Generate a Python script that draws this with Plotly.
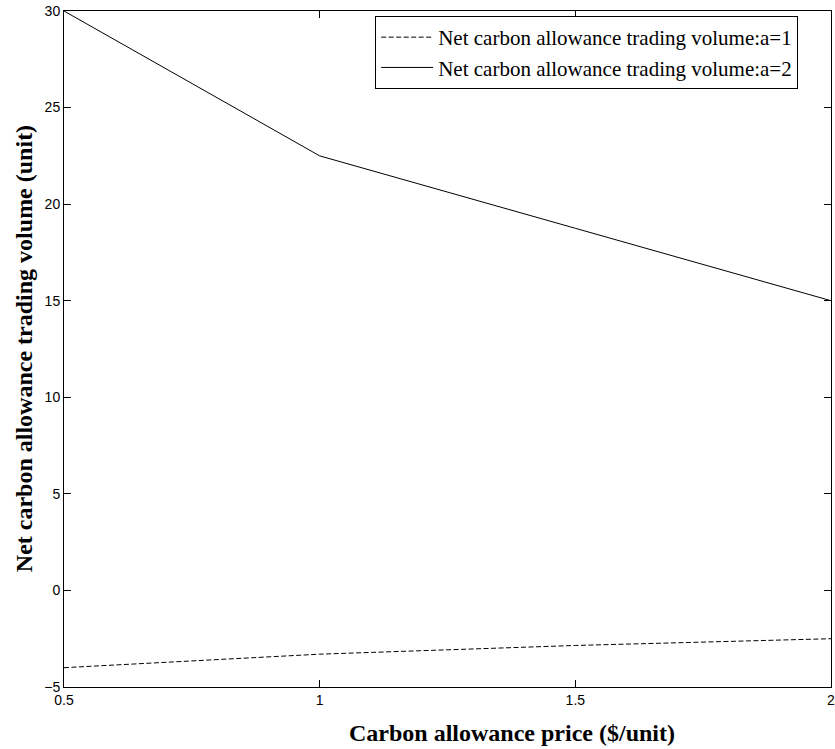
import plotly.graph_objects as go

price = [0.5, 1.0, 1.5, 2.0]
vol_a1 = [-4.0, -3.3, -2.85, -2.5]
vol_a2 = [30.0, 22.5, 18.75, 15.0]
name_a1 = "Net carbon allowance trading volume:a=1"
name_a2 = "Net carbon allowance trading volume:a=2"
x_ticks = [0.5, 1, 1.5, 2]
y_ticks = [-5, 0, 5, 10, 15, 20, 25, 30]
x_title = "<b>Carbon allowance price ($/unit)</b>"
y_title = "<b>Net carbon allowance trading volume (unit)</b>"

fig = go.Figure()
fig.add_trace(go.Scatter(x=price, y=vol_a1, mode="lines", name=name_a1,
                         legendgroup="g1",
                         line=dict(color="black", width=1, dash="5px,2.5px")))
fig.add_trace(go.Scatter(x=price, y=vol_a2, mode="lines", name=name_a2,
                         legendgroup="g2",
                         line=dict(color="black", width=1)))

axis_common = dict(showgrid=False, zeroline=False, showline=True, linecolor="black",
                   linewidth=1, mirror="ticks", ticks="inside", ticklen=7,
                   tickcolor="black",
                   tickfont=dict(family="Liberation Sans, Arial", size=14, color="black"))

serif = "Liberation Serif, Times New Roman"

fig.update_layout(
    width=835, height=749,
    margin=dict(l=64, r=0, t=11, b=62),
    paper_bgcolor="white", plot_bgcolor="white",
    xaxis=dict(range=[0.5, 2], tickvals=x_ticks, ticktext=[str(v) for v in x_ticks],
               ticklabeloverflow="allow", **axis_common),
    yaxis=dict(range=[-5, 30], tickvals=y_ticks, **axis_common),
    legend=dict(x=0.9572, xanchor="right", y=0.9926, yanchor="top",
                bgcolor="white", bordercolor="black", borderwidth=1,
                font=dict(family=serif, size=21, color="black"),
                itemwidth=52,
                tracegroupgap=0, traceorder="grouped"),
    showlegend=True,
    annotations=[
        dict(text=x_title, xref="paper", yref="paper", x=0.5837, y=-0.068,
             xanchor="center", yanchor="middle", showarrow=False,
             font=dict(family=serif, size=24, color="black")),
        dict(text=y_title, xref="paper", yref="paper", x=-0.0519, y=0.5,
             xanchor="center", yanchor="middle", showarrow=False, textangle=-90,
             font=dict(family=serif, size=24, color="black")),
    ],
)

fig.write_html("out.html")
